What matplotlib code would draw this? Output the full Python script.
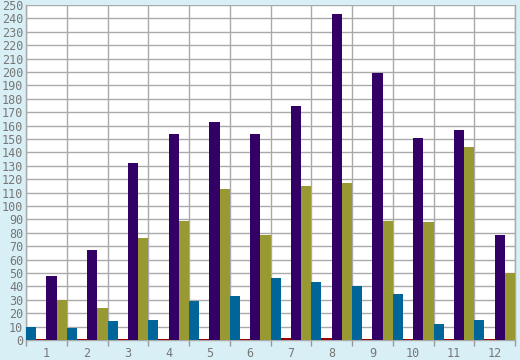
import numpy as np
import matplotlib
matplotlib.use("Agg")
import matplotlib.pyplot as plt

categories = ["1", "2", "3", "4", "5", "6", "7", "8", "9", "10", "11", "12"]
blue_vals = [10, 9, 14, 15, 29, 33, 46, 43, 40, 34, 12, 15]
red_vals = [0.8, 0.8, 0.8, 0.8, 0.8, 0.8, 1.5, 1.5, 0.8, 0.8, 0.8, 0.8]
purple_vals = [48, 67, 132, 154, 163, 154, 175, 243, 199, 151, 157, 78]
olive_vals = [30, 24, 76, 89, 113, 78, 115, 117, 89, 88, 144, 50]

series = [blue_vals, red_vals, purple_vals, olive_vals]
colors = ["#006699", "#990000", "#330066", "#999933"]

fig = plt.figure(figsize=(5.2, 3.6), dpi=100)
fig.patch.set_facecolor("#d9eff6")
ax = fig.add_axes([26 / 520, 20 / 360, 489 / 520, 335 / 360])
ax.set_facecolor("white")

n = len(categories)
x = np.arange(n)
w = 0.25
for i, (vals, c) in enumerate(zip(series, colors)):
    ax.bar(x - 0.5 + w * (i + 0.5), vals, width=w, color=c, zorder=3, linewidth=0)

ax.set_xlim(-0.5, n - 0.5)
ax.set_ylim(0, 250)
ax.set_yticks(range(0, 251, 10))

# group boundaries carry the grid lines and tick marks, labels sit in the middle
ax.set_xticks(np.arange(n + 1) - 0.5)
ax.set_xticklabels([])
ax.set_xticks(x, minor=True)
ax.set_xticklabels(categories, minor=True)
ax.tick_params(axis="x", which="minor", length=0, pad=5)
ax.tick_params(axis="x", which="major", length=4, width=1, color="#999999")
ax.tick_params(axis="y", length=0, pad=2)
ax.grid(True, which="major", color="#aaaaaa", linewidth=1, zorder=0)

for lab in ax.get_xticklabels(minor=True) + ax.get_yticklabels():
    lab.set_fontfamily("DejaVu Sans Mono")
    lab.set_fontsize(8.5)
    lab.set_color("#777777")

for s in ax.spines.values():
    s.set_color("#aaaaaa")
    s.set_linewidth(1)
ax.spines["top"].set_visible(False)

fig.savefig("out.png", dpi=100, facecolor=fig.get_facecolor())
